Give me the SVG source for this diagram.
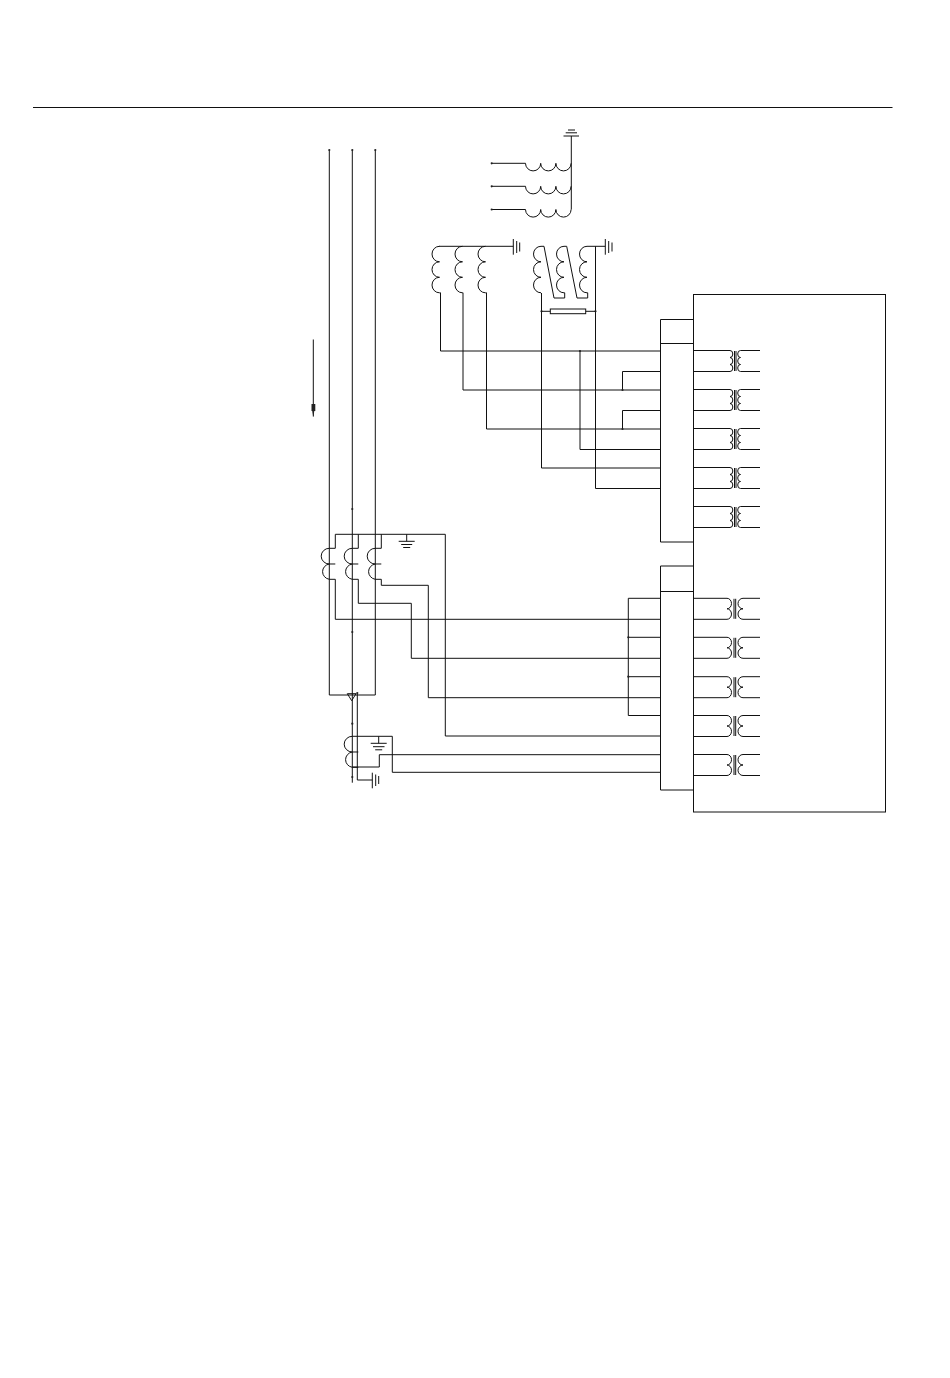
<svg xmlns="http://www.w3.org/2000/svg" width="950" height="1378" viewBox="0 0 950 1378">
<style>
.w{fill:none;stroke:#111;stroke-width:1}
.d{fill:#222;stroke:none}
</style>
<defs>
<circle id="dot" r="1.1" class="d"/>
<path id="tt" class="w" d="M0 0H37a2.800 3.500 0 0 1 0 7a2.800 3.500 0 0 1 0 7a2.800 3.500 0 0 1 0 7H0M41.500 .5V20.500M43 .5V20.500M67 0H47.500a2.800 3.500 0 0 0 0 7a2.800 3.500 0 0 0 0 7a2.800 3.500 0 0 0 0 7H67"/>
<path id="tb" class="w" d="M0 0H34a4.500 5.250 0 0 1 0 10.500a4.500 5.250 0 0 1 0 10.500H0M41 .5V20.500M42.700 .5V20.500M67 0H50a5 5.250 0 0 0 0 10.500a5 5.250 0 0 0 0 10.500H67"/>
<path id="hc" class="w" d="M0 0a7.600 7.600 0 0 0 15.200 0a7.600 7.600 0 0 0 15.200 0a7.600 7.600 0 0 0 15.200 0"/>
<path id="vc" class="w" d="M0 0a7.500 7.750 0 0 0 0 15.500a7.500 7.750 0 0 0 0 15.500a7.500 7.750 0 0 0 0 15.500"/>
<path id="ct" class="w" d="M0 0a8 7.750 0 0 0 0 15.700H6M0 15.700a8 7.750 0 0 0 0 15.300H6"/>
</defs>

<g id="header-rule"><path class="w" d="M33 107.500H892.500"/></g>

<g id="connectors">
<path class="w" d="M329.300 150V695H375.300V150M352.300 150V782.700"/>
<path class="w" d="M491.700 163.300H525.500M491.700 186.300H525.500M491.700 209.500H525.500"/>
<path class="w" d="M440.500 292.700V351H660.500M463 292.700V390H660.500M486.500 292.700V429H660.500"/>
<path class="w" d="M622.500 390V371.500H660.500M622.500 429V410.500H660.500"/>
<path class="w" d="M580 351V449.500H660.500M541.500 293V468H660.500M595.500 246.300V488.500H660.500"/>
<path class="w" d="M335.300 579.300V619.300H660.500M358.300 579.300V603.300H411.300V658.300H660.500M381.300 579.300V585.300H428.300V697.700H660.500"/>
<path class="w" d="M335.300 548.300V534.300H445.300V736H660.500M358.300 534.300V548.300M381.300 534.300V548.300"/>
<path class="w" d="M628.300 598.300V715.500M628.300 598.300H660.500M628.300 637.300H660.500M628.300 676.700H660.500M628.300 715.500H660.500"/>
<path class="w" d="M352.300 736.300H392.300V772.300H660.500M352.300 767H379.300V754.700H660.500"/>
<path class="w" d="M357.300 693V780H372.300"/>
<use href="#dot" x="329.300" y="150"/><use href="#dot" x="352.300" y="150"/><use href="#dot" x="375.300" y="150"/>
<use href="#dot" x="352.300" y="509"/><use href="#dot" x="352.300" y="632"/>
<use href="#dot" x="352.300" y="723.700"/><use href="#dot" x="352.300" y="777"/><use href="#dot" x="357.300" y="693"/>
<use href="#dot" x="491.700" y="163.300"/><use href="#dot" x="491.700" y="186.300"/><use href="#dot" x="491.700" y="209.500"/>
<use href="#dot" x="622.500" y="390"/><use href="#dot" x="622.500" y="429"/><use href="#dot" x="580" y="351"/>
<use href="#dot" x="628.300" y="637.300"/><use href="#dot" x="628.300" y="676.700"/>
<use href="#dot" x="541.500" y="311.300"/><use href="#dot" x="595.500" y="311.300"/>
</g>

<g id="arrow">
<path class="w" d="M313.300 339.500V416.500"/>
<rect class="d" x="311.500" y="404" width="3.800" height="7"/>
<path class="d" d="M312.300 411H314.300L313.300 417Z"/>
</g>

<g id="star-winding">
<use href="#hc" x="525.500" y="163.300"/><use href="#hc" x="525.500" y="186.300"/><use href="#hc" x="525.500" y="209.500"/>
<path class="w" d="M571.300 136V209.500M563.500 136H579M565.700 132.800H577M568 130H575"/>
</g>

<g id="vt-primary">
<path class="w" d="M439 246.300H513.300M513.300 239V254.700M516.700 241V253M519.700 242.500V251.500"/>
<use href="#vc" x="439.500" y="246.300"/><use href="#vc" x="462.500" y="246.300"/><use href="#vc" x="485.500" y="246.300"/>
<path class="w" d="M439.500 292.800H440.500M462.500 292.800H463M485.500 292.800H486.500"/>
</g>

<g id="vt-delta">
<use href="#vc" x="541" y="246.300"/><use href="#vc" x="564" y="246.300"/><use href="#vc" x="587" y="246.300"/>
<path class="w" d="M541 246.300H544L554 298H564.700V292.800H564M564 246.300H566.700L577 298H587.700V292.800H587"/>
<path class="w" d="M587 246.300H605.300M605.300 239V254.700M608.700 241V253M612 242.500V251.500"/>
<path class="w" d="M541.500 311.300H550.300M585.700 311.300H595.500"/>
<rect class="w" x="550.300" y="309" width="35.400" height="4.700"/>
</g>

<g id="ct-bank">
<use href="#ct" x="329.300" y="548.300"/><use href="#ct" x="352.300" y="548.300"/><use href="#ct" x="375.300" y="548.300"/>
<path class="w" d="M329.300 548.300H335.300M352.300 548.300H358.300M375.300 548.300H381.300"/>
<path class="w" d="M406.700 534.300V541.300M398.700 541.300H414.700M401.200 544.500H412.200M403.200 547.500H410.200"/>
</g>

<g id="neutral-ct">
<path class="w" d="M347.300 693.700H356L351.700 700.700Z"/>
<use href="#ct" x="352.300" y="736.300"/>
<path class="w" d="M372.300 772.700V788.300M375.700 774.500V786M378.700 776V784"/>
<path class="w" d="M378.700 736.300V743.300M370.700 743.300H386.700M373 746.700H384.500M375.200 749.800H382.200"/>
</g>

<g id="relay">
<rect class="w" x="693.500" y="294.500" width="192" height="517.500"/>
<path class="w" d="M693.500 319.500H660.500V542H693.500M660.500 343.500H693.500"/>
<path class="w" d="M693.500 566H660.500V790H693.500M660.500 591.500H693.500"/>
<use href="#tt" x="693" y="350.500"/><use href="#tt" x="693" y="389.500"/><use href="#tt" x="693" y="428.500"/><use href="#tt" x="693" y="467.500"/><use href="#tt" x="693" y="506.500"/>
<use href="#tb" x="693" y="598.300"/><use href="#tb" x="693" y="637.300"/><use href="#tb" x="693" y="676.700"/><use href="#tb" x="693" y="715.500"/><use href="#tb" x="693" y="754.500"/>
</g>
</svg>
